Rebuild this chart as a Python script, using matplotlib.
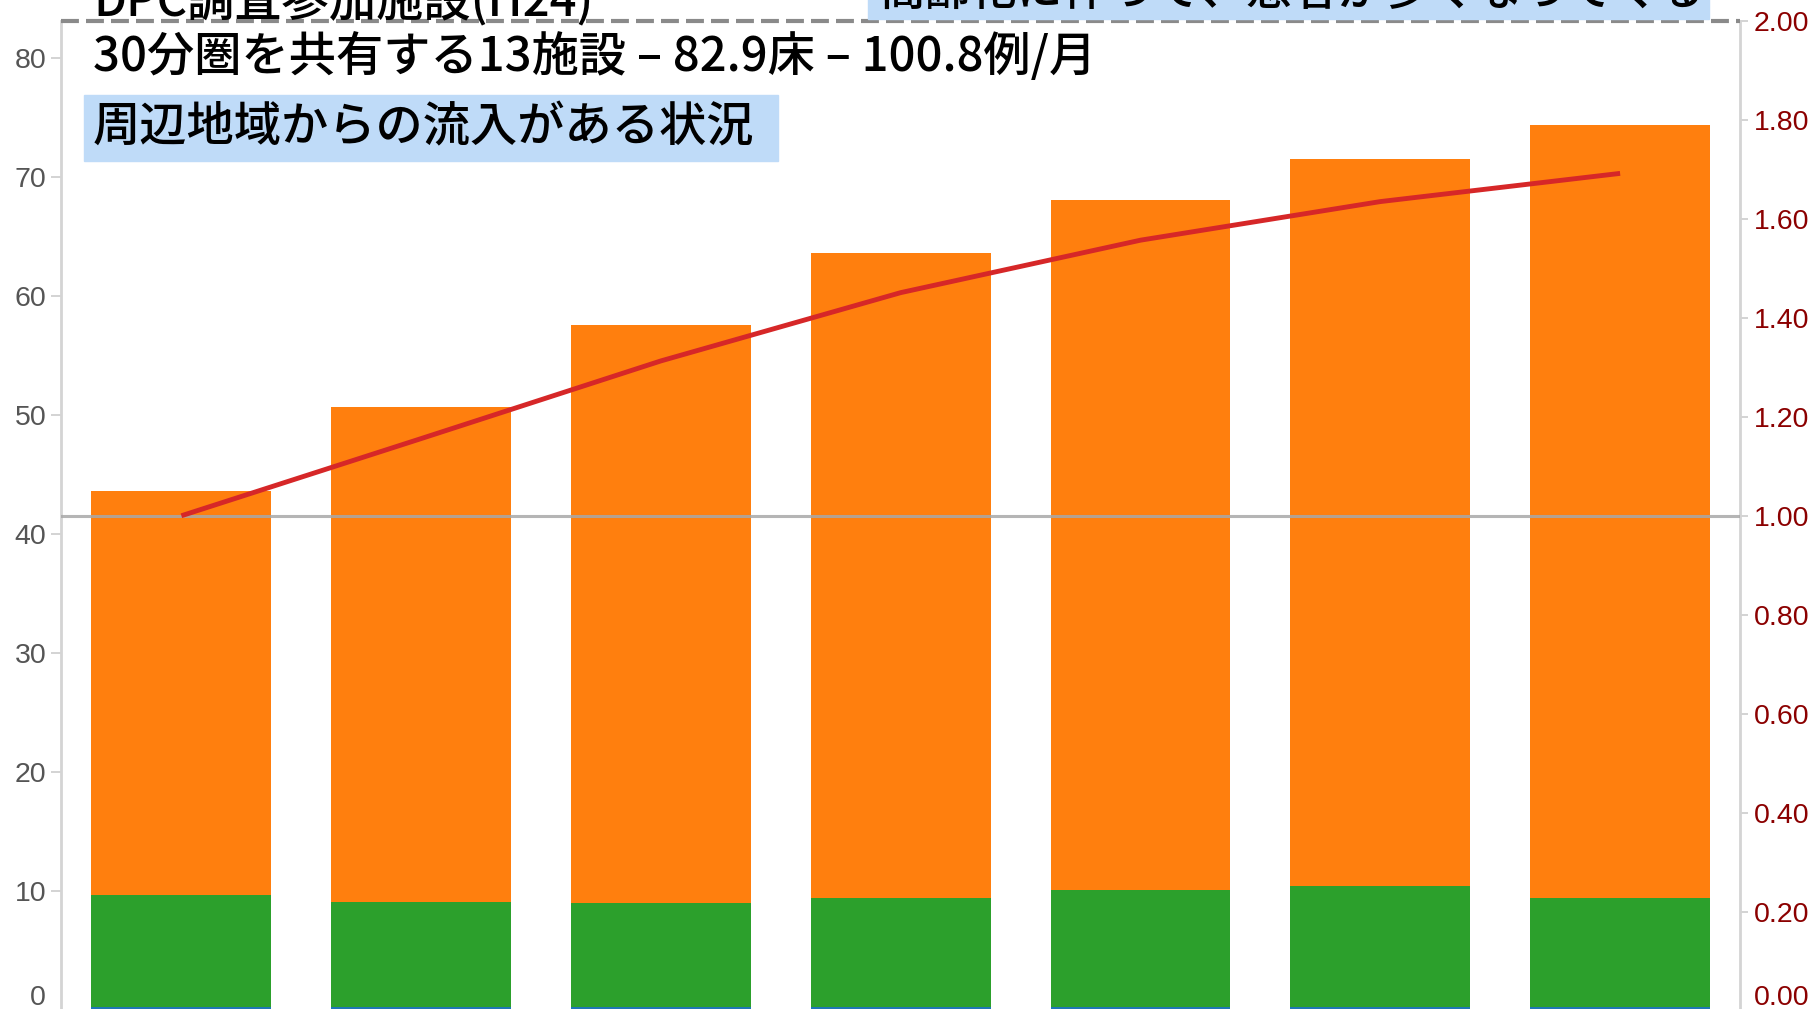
import numpy as np
import matplotlib
matplotlib.use("Agg")
import matplotlib.pyplot as plt
from matplotlib.patches import Rectangle

plt.rcParams['font.family'] = ['Liberation Sans', 'Noto Sans CJK JP']

# data (left axis: counts, right axis: ratio to first column)
periods = ['1', '2', '3', '4', '5', '6', '7']
blue_vals = [0.3, 0.3, 0.3, 0.3, 0.3, 0.3, 0.3]
green_vals = [9.36, 8.85, 8.71, 9.15, 9.83, 10.13, 9.15]
orange_vals = [34.0, 41.53, 48.59, 54.19, 57.97, 61.07, 64.9]
ratio_vals = [1.00, 1.156, 1.313, 1.451, 1.557, 1.635, 1.692]

left_ticks = [0, 10, 20, 30, 40, 50, 60, 70, 80]
right_ticks = [0.0, 0.2, 0.4, 0.6, 0.8, 1.0, 1.2, 1.4, 1.6, 1.8, 2.0]

title_top = 'DPC調査参加施設(H24)'
title_main = '30分圏を共有する13施設 – 82.9床 – 100.8例/月'
note_left = '周辺地域からの流入がある状況'
note_right = '高齢化に伴って、患者が多くなってくる'

W, H = 1820, 1009
fig = plt.figure(figsize=(W / 100, H / 100), dpi=100)

def fx(x):
    return x / W

def fy(y):
    return 1 - y / H

# axes placed in pixels: left axis x=61.5, right axis x=1740, zero at y=1010.5, top at y=21
ax = fig.add_axes([fx(61.5), fy(1010.5), fx(1740) - fx(61.5), fy(21) - fy(1010.5)])
ax2 = ax.twinx()

x = np.arange(len(periods))
w = 0.75
b1 = np.array(blue_vals)
b2 = b1 + np.array(green_vals)
ax.bar(x, blue_vals, w, color='#1f77b4', zorder=2)
ax.bar(x, green_vals, w, bottom=b1, color='#2ca02c', zorder=2)
ax.bar(x, orange_vals, w, bottom=b2, color='#ff7f0e', zorder=2)

ax.set_xlim(-0.5, 6.5)
ax.set_ylim(0, 83.1)
ax2.set_ylim(0, 2.0)

ax2.axhline(1.0, color='#a8a8a8', lw=2.2, alpha=0.85, zorder=3)
ax2.axhline(2.0, color='#8a8a8a', lw=3, linestyle=(0, (4.3, 1.7)), zorder=3, clip_on=False)
ax2.plot(x, ratio_vals, color='#d62728', lw=3.5, zorder=4, solid_capstyle='butt')

for a in (ax, ax2):
    for s in ('top', 'bottom', 'left', 'right'):
        a.spines[s].set_visible(False)
    a.set_xticks([])
ax.spines['left'].set_visible(True)
ax.spines['left'].set_color('#d4d4d4')
ax.spines['left'].set_linewidth(2)
ax2.spines['right'].set_visible(True)
ax2.spines['right'].set_color('#d4d4d4')
ax2.spines['right'].set_linewidth(2)

ax.set_yticks(left_ticks)
ax.set_yticklabels([str(t) for t in left_ticks])
ax.tick_params(axis='y', length=7, width=1.2, color='#cccccc', labelsize=20.5,
               labelcolor='#555555', pad=4)
ax2.set_yticks(right_ticks)
ax2.set_yticklabels(['%.2f' % t for t in right_ticks])
ax2.tick_params(axis='y', length=6, width=1.2, color='#cccccc', labelsize=20.5,
                labelcolor='#8b0000', pad=4)

# bottom labels sit above the cut edge
ax.yaxis.get_major_ticks()[0].label1.set_va('bottom')
ax2.yaxis.get_major_ticks()[0].label2.set_va('bottom')

jp = ['Noto Sans CJK JP', 'DejaVu Sans']

# light blue boxes behind notes
fig.patches.append(Rectangle((fx(84), fy(161)), fx(778) - fx(84), fy(95) - fy(161),
                             transform=fig.transFigure, color='#bfdbf8', zorder=1))
fig.patches.append(Rectangle((fx(868), fy(19)), fx(1709) - fx(868), fy(-60) - fy(19),
                             transform=fig.transFigure, color='#bfdbf8', zorder=1))

fig.text(fx(93), fy(15), title_top, family=jp, fontsize=34, weight='medium',
         va='baseline', ha='left')
fig.text(fx(879), fy(5), note_right, family=jp, fontsize=33, weight='medium',
         va='baseline', ha='left')
fig.text(fx(93), fy(57), title_main, family=jp, fontsize=34, weight='medium',
         va='center', ha='left')
fig.text(fx(93), fy(128), note_left, family=jp, fontsize=34, weight='medium',
         va='center', ha='left')

fig.savefig('out.png', dpi=100)
